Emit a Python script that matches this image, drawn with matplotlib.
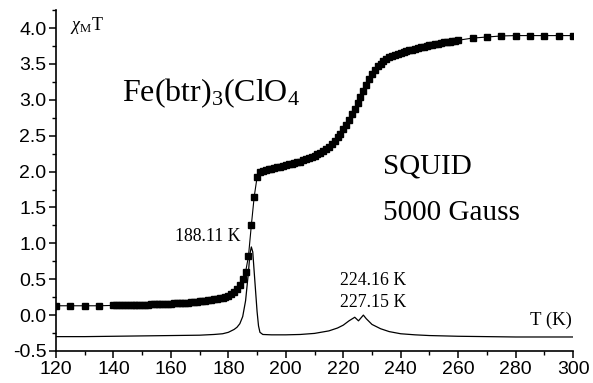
import numpy as np
import matplotlib
matplotlib.use('Agg')
import matplotlib.pyplot as plt
from matplotlib.ticker import MultipleLocator

plt.rcParams['font.family'] = 'Liberation Sans'
plt.rcParams['mathtext.fontset'] = 'custom'
plt.rcParams['mathtext.rm'] = 'Liberation Serif'
plt.rcParams['mathtext.it'] = 'Liberation Serif:italic'

# chi_M*T data (square markers)
temp_chi = [120, 125, 130, 135] + list(range(140, 261)) + [265, 270, 275, 280, 285, 290, 295, 300]
chi_t = [0.13, 0.13, 0.13, 0.13,
         0.135, 0.136, 0.137, 0.138, 0.139, 0.14, 0.141, 0.142, 0.143, 0.144,
         0.145, 0.146, 0.147, 0.148, 0.149, 0.15, 0.152, 0.154, 0.156, 0.158,
         0.16, 0.162, 0.164, 0.166, 0.168, 0.17, 0.173, 0.176, 0.18, 0.185,
         0.19, 0.196, 0.202, 0.208, 0.214, 0.22, 0.228, 0.236, 0.245, 0.256,
         0.27, 0.29, 0.32, 0.36, 0.42, 0.50, 0.60, 0.82, 1.25, 1.65,
         1.92, 2.00, 2.01, 2.02, 2.03, 2.04, 2.05, 2.06, 2.07, 2.08,
         2.09, 2.10, 2.11, 2.12, 2.13, 2.14, 2.155, 2.17, 2.185, 2.20,
         2.22, 2.24, 2.26, 2.285, 2.31, 2.345, 2.385, 2.43, 2.48, 2.53,
         2.59, 2.655, 2.725, 2.80, 2.875, 2.955, 3.035, 3.12, 3.205, 3.285,
         3.355, 3.415, 3.465, 3.505, 3.54, 3.565, 3.59, 3.61, 3.625, 3.64,
         3.655, 3.665, 3.675, 3.69, 3.70, 3.71, 3.72, 3.73, 3.74, 3.75,
         3.76, 3.768, 3.776, 3.784, 3.792, 3.80, 3.806, 3.812, 3.818, 3.824,
         3.83,
         3.86, 3.875, 3.89, 3.895, 3.895, 3.895, 3.895, 3.895]

# derivative curve (line only)
temp_deriv = [120, 130, 140, 150, 160, 170, 175, 178, 180, 181, 182, 183, 184, 185,
              186, 187, 187.5, 188, 188.5, 189, 190, 190.5, 191, 192, 195, 200,
              205, 210, 215, 218, 220, 222, 224, 225.3, 227, 228, 230, 233, 236,
              240, 245, 250, 260, 270, 280, 300]
deriv = [-0.30, -0.30, -0.295, -0.29, -0.285, -0.28, -0.27, -0.26, -0.24, -0.22,
         -0.20, -0.17, -0.12, -0.02, 0.20, 0.60, 0.85, 0.95, 0.88, 0.60, 0.05,
         -0.15, -0.24, -0.27, -0.275, -0.275, -0.27, -0.255, -0.22, -0.18, -0.14,
         -0.08, -0.03, -0.08, 0.0, -0.05, -0.13, -0.19, -0.23, -0.26, -0.275,
         -0.285, -0.295, -0.30, -0.305, -0.305]

fig = plt.figure(figsize=(5.93, 3.83), dpi=100)
ax = fig.add_axes([0.0944, 0.0836, 0.872, 0.89])

ax.plot(temp_chi, chi_t, color='black', lw=0.8, marker='s', ms=3.8, mec='black')
ax.plot(temp_deriv, deriv, color='black', lw=0.9)

ax.set_xlim(120, 300)
ax.set_ylim(-0.5, 4.25)
ax.spines['top'].set_visible(False)
ax.spines['right'].set_visible(False)
ax.spines['left'].set_linewidth(1.2)
ax.spines['bottom'].set_linewidth(1.2)
ax.xaxis.set_major_locator(MultipleLocator(20))
ax.xaxis.set_minor_locator(MultipleLocator(10))
ax.yaxis.set_major_locator(MultipleLocator(0.5))
ax.yaxis.set_minor_locator(MultipleLocator(0.25))
ax.tick_params(which='major', direction='out', length=5, width=1.1, labelsize=14)
ax.tick_params(which='minor', direction='out', length=3, width=1.0)
ax.tick_params(axis='y', pad=2)
ax.tick_params(axis='x', pad=2)
ax.yaxis.set_major_formatter(matplotlib.ticker.FormatStrFormatter('%.1f'))

serif = 'Liberation Serif'
ax.text(0.028, 0.985, r'$\chi_{\mathrm{M}}\mathrm{T}$', transform=ax.transAxes,
        fontsize=13, ha='left', va='top')
ax.text(0.128, 0.755, r'$\mathrm{Fe(btr)_3(ClO_4}$', transform=ax.transAxes,
        fontsize=23, ha='left', va='center')
ax.text(0.632, 0.54, 'SQUID', transform=ax.transAxes, family=serif,
        fontsize=21, ha='left', va='center')
ax.text(0.632, 0.405, '5000 Gauss', transform=ax.transAxes, family=serif,
        fontsize=21, ha='left', va='center')
ax.text(0.231, 0.337, '188.11 K', transform=ax.transAxes, family=serif,
        fontsize=12.8, ha='left', va='center')
ax.text(0.549, 0.208, '224.16 K', transform=ax.transAxes, family=serif,
        fontsize=12.8, ha='left', va='center')
ax.text(0.549, 0.141, '227.15 K', transform=ax.transAxes, family=serif,
        fontsize=12.8, ha='left', va='center')
ax.text(0.998, 0.091, 'T (K)', transform=ax.transAxes, family=serif,
        fontsize=13.5, ha='right', va='center')

fig.savefig('out.png', dpi=100)
